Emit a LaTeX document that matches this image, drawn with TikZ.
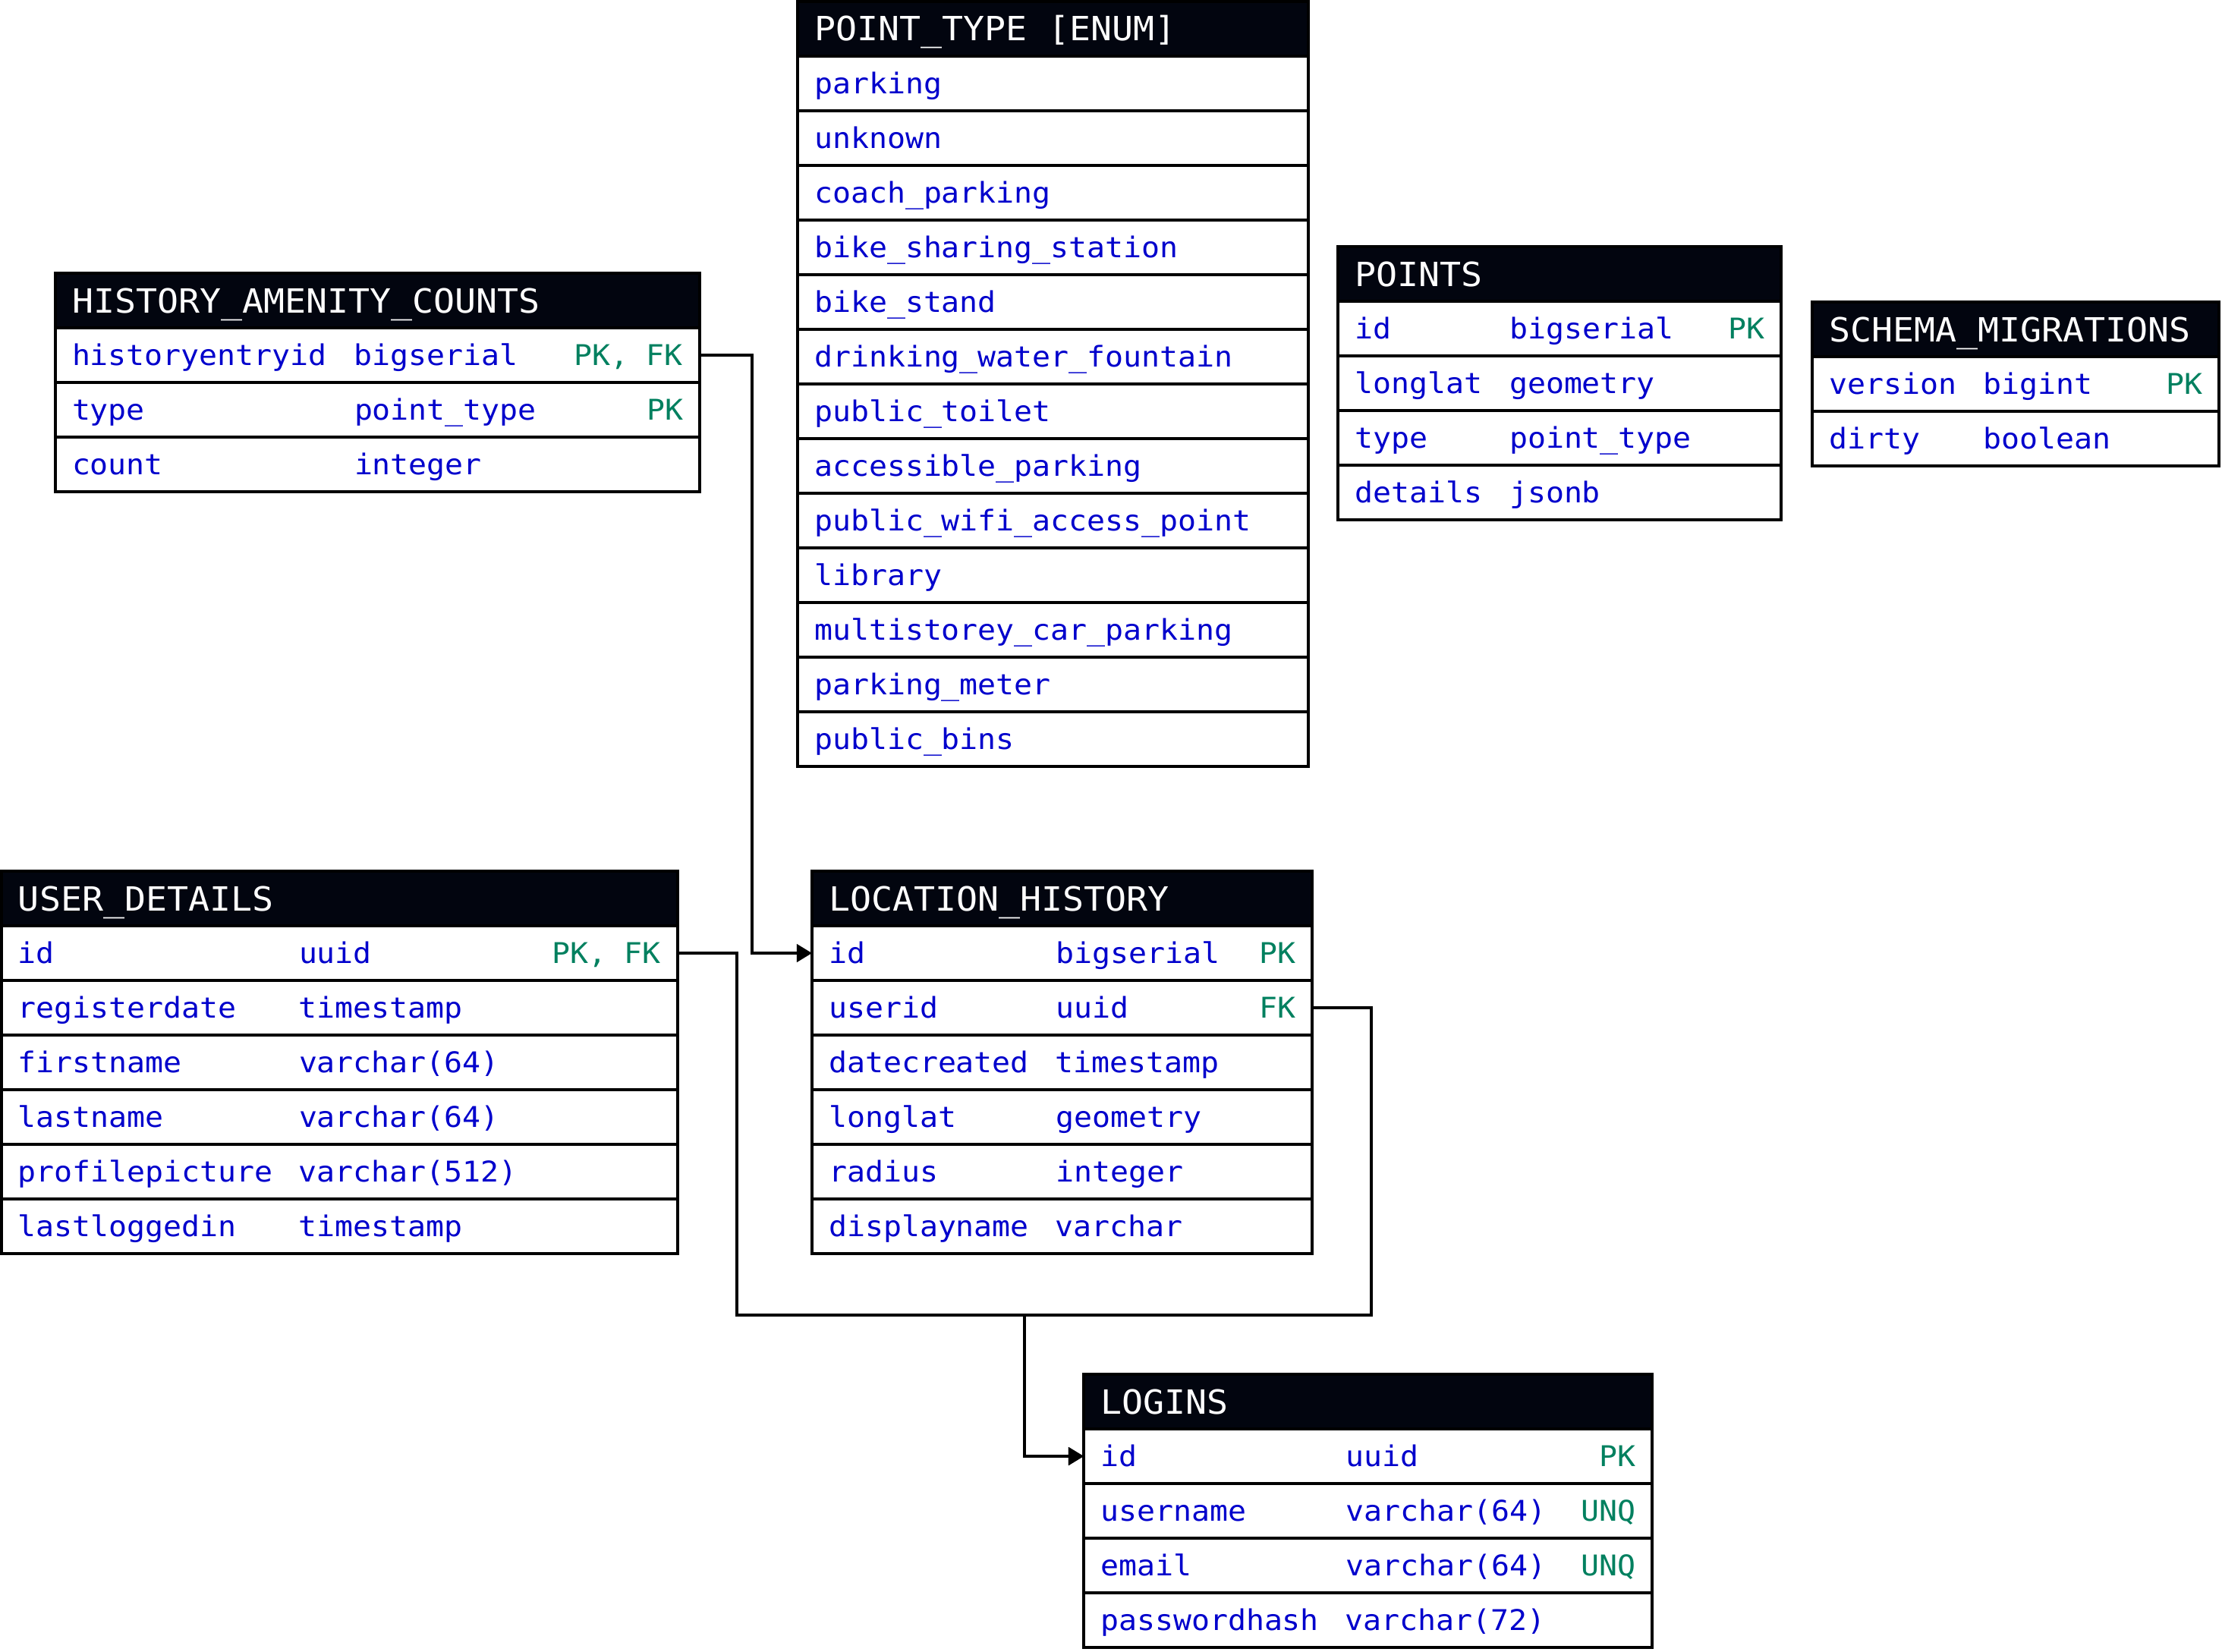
\documentclass[tikz,border=0pt]{standalone}
\usepackage{fontspec}
\usetikzlibrary{positioning, arrows.meta}
\newfontfamily\tblfont{DejaVu Sans Mono}[FakeStretch=1.06]
\definecolor{hbg}{HTML}{02050F}
\definecolor{fblue}{HTML}{0000CC}
\definecolor{kgreen}{HTML}{00805F}
\tikzstyle{thead} = [rectangle, draw=black, fill=hbg, text=white, line width=1.1pt, outer sep=0pt, inner xsep=0.22cm, inner ysep=0pt, minimum height=0.72cm, text height=9.1pt, text depth=0pt, font=\tblfont\fontsize{12.5}{14}\selectfont, anchor=north west]
\tikzstyle{tfield} = [rectangle, draw=black, fill=white, text=fblue, line width=1.1pt, outer sep=0pt, inner xsep=0.22cm, inner ysep=0pt, minimum height=0.72cm, text height=7.8pt, text depth=0pt, font=\tblfont\fontsize{10.7}{13}\selectfont]
\tikzstyle{fk} = [line width=1.1pt, ->, >={Triangle[length=5.7pt, width=6.6pt]}]
% one table row: name, row above, field, type, key
\newcommand{\dbrow}[5]{\node (#1) [tfield, below=0pt of #2] {\hbox to \tabw{\hbox to \colw{#3\hss}#4\hfill\textcolor{kgreen}{#5}}};}
\newcommand{\dbhead}[3]{\node (#1) [thead] at (#2) {\hbox to \tabw{#3\hfill}};}

\begin{document}
\begin{tikzpicture}
  \useasboundingbox (0,0) rectangle (29.28,-21.76);
  % enum
  \def\tabw{6.29cm}
  \dbhead{pt-0}{10.51,-0.02}{POINT\_TYPE [ENUM]}
  \foreach \v [count=\i] in {parking, unknown, coach\_parking, bike\_sharing\_station, bike\_stand, drinking\_water\_fountain, public\_toilet, accessible\_parking, public\_wifi\_access\_point, library, multistorey\_car\_parking, parking\_meter, public\_bins} {
    \pgfmathtruncatemacro{\j}{\i-1}
    \node (pt-\i) [tfield, below=0pt of pt-\j] {\hbox to \tabw{\v\hfill}};
  }
  % history_amenity_counts
  \def\tabw{8.05cm}\def\colw{3.72cm}
  \dbhead{hac}{0.73,-3.60}{HISTORY\_AMENITY\_COUNTS}
  \dbrow{hac-1}{hac}{historyentryid}{bigserial}{PK, FK}
  \dbrow{hac-2}{hac-1}{type}{point\_type}{PK}
  \dbrow{hac-3}{hac-2}{count}{integer}{}
  % points
  \def\tabw{5.40cm}\def\colw{2.04cm}
  \dbhead{pts}{17.63,-3.25}{POINTS}
  \dbrow{pts-1}{pts}{id}{bigserial}{PK}
  \dbrow{pts-2}{pts-1}{longlat}{geometry}{}
  \dbrow{pts-3}{pts-2}{type}{point\_type}{}
  \dbrow{pts-4}{pts-3}{details}{jsonb}{}
  % schema_migrations
  \def\tabw{4.92cm}\def\colw{2.03cm}
  \dbhead{sm}{23.88,-3.98}{SCHEMA\_MIGRATIONS}
  \dbrow{sm-1}{sm}{version}{bigint}{PK}
  \dbrow{sm-2}{sm-1}{dirty}{boolean}{}
  % user_details
  \def\tabw{8.47cm}\def\colw{3.70cm}
  \dbhead{ud}{0.02,-11.48}{USER\_DETAILS}
  \dbrow{ud-1}{ud}{id}{uuid}{PK, FK}
  \dbrow{ud-2}{ud-1}{registerdate}{timestamp}{}
  \dbrow{ud-3}{ud-2}{firstname}{varchar(64)}{}
  \dbrow{ud-4}{ud-3}{lastname}{varchar(64)}{}
  \dbrow{ud-5}{ud-4}{profilepicture}{varchar(512)}{}
  \dbrow{ud-6}{ud-5}{lastloggedin}{timestamp}{}
  % location_history
  \def\tabw{6.15cm}\def\colw{2.99cm}
  \dbhead{lh}{10.70,-11.48}{LOCATION\_HISTORY}
  \dbrow{lh-1}{lh}{id}{bigserial}{PK}
  \dbrow{lh-2}{lh-1}{userid}{uuid}{FK}
  \dbrow{lh-3}{lh-2}{datecreated}{timestamp}{}
  \dbrow{lh-4}{lh-3}{longlat}{geometry}{}
  \dbrow{lh-5}{lh-4}{radius}{integer}{}
  \dbrow{lh-6}{lh-5}{displayname}{varchar}{}
  % logins
  \def\tabw{7.05cm}\def\colw{3.23cm}
  \dbhead{lg}{14.28,-18.11}{LOGINS}
  \dbrow{lg-1}{lg}{id}{uuid}{PK}
  \dbrow{lg-2}{lg-1}{username}{varchar(64)}{UNQ}
  \dbrow{lg-3}{lg-2}{email}{varchar(64)}{UNQ}
  \dbrow{lg-4}{lg-3}{passwordhash}{varchar(72)}{}
  % foreign keys
  \coordinate (join) at (13.50,-17.33);
  \draw [fk] (hac-1.east) -- ++(0.69,0) |- (lh-1.west);
  \draw [fk] (ud-1.east) -- ++(0.78,0) |- (join) |- (lg-1.west);
  \draw [fk] (lh-2.east) -- ++(0.78,0) |- (join) |- (lg-1.west);
\end{tikzpicture}
\end{document}
